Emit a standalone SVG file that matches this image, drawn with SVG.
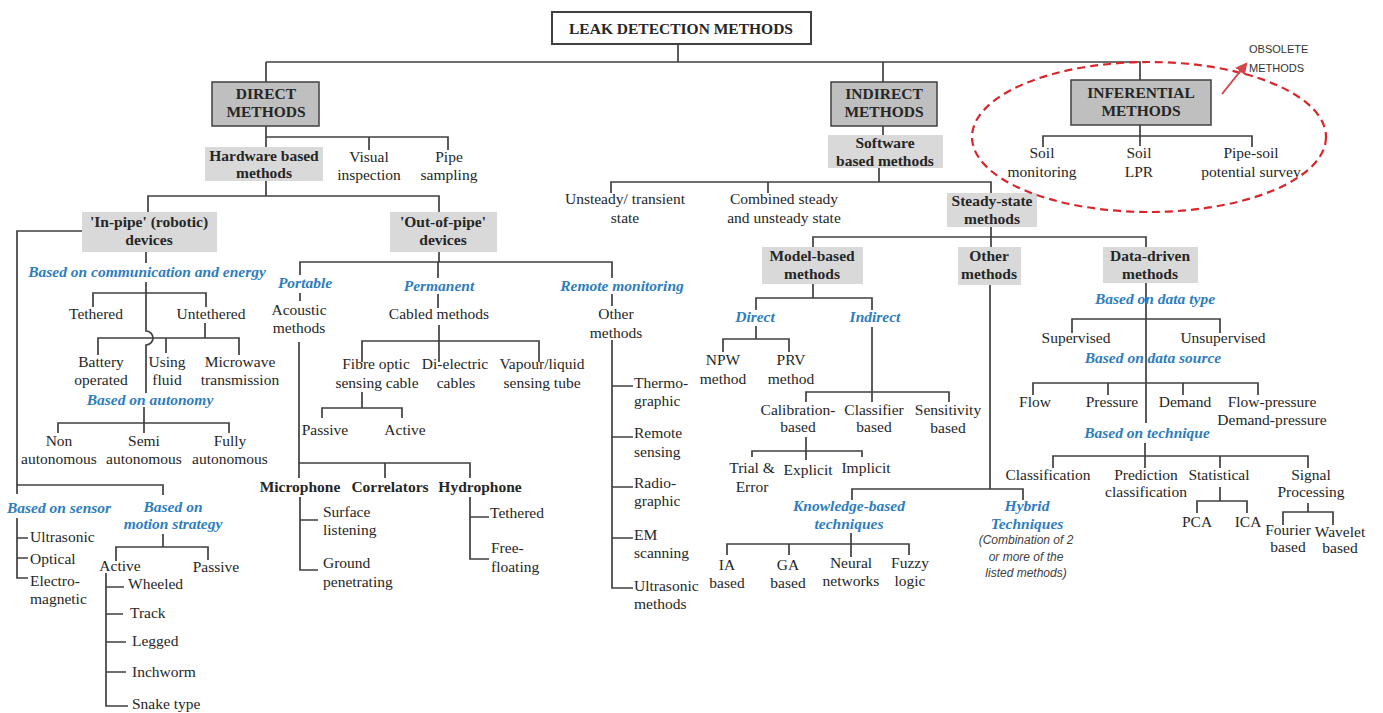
<svg xmlns="http://www.w3.org/2000/svg" width="1383" height="713" viewBox="0 0 1383 713">
<defs>
<style>
text{font-family:"Liberation Serif","Times New Roman",serif;font-size:15.5px;fill:#262626;text-anchor:middle}
.l{text-anchor:start}
.b{font-weight:bold}
.c{font-weight:bold;font-style:italic;fill:#2e7dbd}
.n{font-family:"Liberation Sans",Arial,sans-serif;font-style:italic;font-size:12px;fill:#404040}
.o{font-family:"Liberation Sans",Arial,sans-serif;font-size:11px;fill:#333;text-anchor:start}
.k{fill:#bfbfbf;stroke:#404040;stroke-width:1.5}
.g{fill:#d9d9d9}
.w{fill:#fff;stroke:#404040;stroke-width:2}
#connectors path{fill:none;stroke:#404040;stroke-width:1.7}
</style>
<marker id="ah" viewBox="0 0 10 10" refX="8" refY="5" markerWidth="12" markerHeight="12" markerUnits="userSpaceOnUse" orient="auto">
<path d="M0,0 L10,5 L0,10 z" fill="#d0484a"/>
</marker>
</defs>
<rect width="1383" height="713" fill="#fff"/>

<g id="connectors">
<path d="M678,44 V62 M266,62 H1140 V80 M266,62 V82 M883,62 V82"/>
<path d="M266,126 V147 M266,137 H448 V150 M369,137 V150"/>
<path d="M266,181 V196 M148,212 V196 H439 V212"/>
<path d="M82,231 H17 V494 M17,485 H163 V495 M17,518 V578 H28 M17,538 H28 M17,558 H28"/>
<path d="M163,534 V547 M116,561 V547 H208 V560"/>
<path d="M106,573 V706 H128 M106,587 H124 M106,614 H123 M106,642 H126 M106,672 H126"/>
<path d="M146,252 V263 M146,282 V331 A7,7 0 0 1 146,345 V393"/>
<path d="M93,307 V293 H206 V307 M205,323 V338 M98,355 V338 H239 V355 M166,338 V353"/>
<path d="M144,407 V423 M58,433 V423 H229 V433 M144,423 V433"/>
<path d="M439,252 V262 M300,275 V262 H612 V278 M438,262 V278"/>
<path d="M300,293 V301 M438,294 V308 M612,294 V306"/>
<path d="M439,325 V362 M362,362 V341 H539 V362"/>
<path d="M362,392 V408 M322,418 V408 H402 V418"/>
<path d="M299,342 V478 M299,463 H470 V478 M385,463 V478"/>
<path d="M300,497 V570 H318 M300,520 H318"/>
<path d="M470,497 V559 H489 M470,517 H489"/>
<path d="M612,340 V588 H633 M612,386 H633 M612,437 H633 M612,487 H633 M612,538 H633"/>
<path d="M883,126 V135 M879,168 V182 M611,193 V182 H991 V193 M768,182 V193"/>
<path d="M991,227 V237 M813,247 V237 H1146 V247 M991,237 V247"/>
<path d="M813,284 V298 M756,310 V298 H872 V310"/>
<path d="M756,326 V339 M723,352 V339 H789 V352"/>
<path d="M872,327 V402 M806,402 V392 H949 V402"/>
<path d="M806,437 V460 M752,457 V451 H862 V457"/>
<path d="M990,285 V489 M852,500 V489 H1023 V500"/>
<path d="M851,533 V557 M727,555 V544 H909 V555 M789,544 V555"/>
<path d="M1146,283 V423 M1072,333 V319 H1220 V333 M1033,395 V383 H1258 V395 M1108,383 V395 M1183,383 V395"/>
<path d="M1145,443 V468 M1053,468 V456 H1308 V468 M1220,456 V468"/>
<path d="M1220,487 V501 M1197,513 V501 H1247 V513"/>
<path d="M1308,503 V512 M1283,525 V512 H1333 V525"/>
<path d="M1140,125 V146 M1043,147 V136 H1252 V147"/>
</g>

<g id="root"><rect class="w" x="552" y="12" width="259" height="32"/><text class="b" x="681" y="34">LEAK DETECTION METHODS</text></g>

<g id="direct"><rect class="k" x="212" y="82" width="107" height="44"/><text class="b" x="266" y="99">DIRECT</text><text class="b" x="266" y="117">METHODS</text></g>
<g id="indirect"><rect class="k" x="831" y="82" width="106" height="44"/><text class="b" x="884" y="99">INDIRECT</text><text class="b" x="884" y="117">METHODS</text></g>
<g id="inferential"><rect class="k" x="1071" y="80" width="140" height="45"/><text class="b" x="1141" y="98">INFERENTIAL</text><text class="b" x="1141" y="116">METHODS</text></g>

<g id="hardware"><rect class="g" x="205" y="147" width="118" height="34"/><text class="b" x="264" y="161">Hardware based</text><text class="b" x="264" y="178">methods</text></g>
<g id="visual"><text x="369" y="162">Visual</text><text x="369" y="180">inspection</text></g>
<g id="pipe-sampling"><text x="449" y="162">Pipe</text><text x="449" y="180">sampling</text></g>

<g id="in-pipe"><rect class="g" x="82" y="212" width="135" height="40"/><text class="b" x="149" y="227">'In-pipe' (robotic)</text><text class="b" x="149" y="245">devices</text></g>
<g id="out-of-pipe"><rect class="g" x="390" y="212" width="107" height="40"/><text class="b" x="443" y="227">'Out-of-pipe'</text><text class="b" x="443" y="245">devices</text></g>

<g id="comm-energy"><text class="c" x="147" y="277">Based on communication and energy</text></g>
<g id="tethered"><text x="96" y="319">Tethered</text></g>
<g id="untethered"><text x="211" y="319">Untethered</text></g>
<g id="battery"><text x="101" y="367">Battery</text><text x="101" y="385">operated</text></g>
<g id="using-fluid"><text x="167" y="367">Using</text><text x="167" y="385">fluid</text></g>
<g id="microwave"><text x="240" y="367">Microwave</text><text x="240" y="385">transmission</text></g>
<g id="autonomy"><text class="c" x="150" y="405">Based on autonomy</text></g>
<g id="non-auto"><text x="59" y="446">Non</text><text x="59" y="464">autonomous</text></g>
<g id="semi-auto"><text x="144" y="446">Semi</text><text x="144" y="464">autonomous</text></g>
<g id="fully-auto"><text x="230" y="446">Fully</text><text x="230" y="464">autonomous</text></g>
<g id="sensor"><text class="c" x="59" y="513">Based on sensor</text></g>
<g id="ultrasonic"><text class="l" x="30" y="542">Ultrasonic</text></g>
<g id="optical"><text class="l" x="30" y="564">Optical</text></g>
<g id="electro"><text class="l" x="30" y="586">Electro-</text><text class="l" x="30" y="604">magnetic</text></g>
<g id="motion"><text class="c" x="173" y="512">Based on</text><text class="c" x="173" y="529">motion strategy</text></g>
<g id="active-m"><text x="120" y="571">Active</text></g>
<g id="passive-m"><text x="216" y="572">Passive</text></g>
<g id="wheeled"><text class="l" x="128" y="589">Wheeled</text></g>
<g id="track"><text class="l" x="130" y="618">Track</text></g>
<g id="legged"><text class="l" x="132" y="646">Legged</text></g>
<g id="inchworm"><text class="l" x="132" y="677">Inchworm</text></g>
<g id="snake"><text class="l" x="132" y="709">Snake type</text></g>

<g id="portable"><text class="c" x="305" y="288">Portable</text></g>
<g id="permanent"><text class="c" x="439" y="291">Permanent</text></g>
<g id="remote-mon"><text class="c" x="622" y="291">Remote monitoring</text></g>
<g id="acoustic"><text x="299" y="315">Acoustic</text><text x="299" y="333">methods</text></g>
<g id="cabled"><text x="439" y="319">Cabled methods</text></g>
<g id="other-m"><text x="616" y="319">Other</text><text x="616" y="338">methods</text></g>
<g id="fibre"><text x="376" y="369">Fibre optic</text><text x="377" y="388">sensing cable</text></g>
<g id="dielectric"><text x="455" y="369">Di-electric</text><text x="456" y="388">cables</text></g>
<g id="vapour"><text x="542" y="369">Vapour/liquid</text><text x="542" y="388">sensing tube</text></g>
<g id="passive-f"><text x="325" y="435">Passive</text></g>
<g id="active-f"><text x="405" y="435">Active</text></g>
<g id="microphone"><text class="b" x="300" y="492">Microphone</text></g>
<g id="correlators"><text class="b" x="390" y="492">Correlators</text></g>
<g id="hydrophone"><text class="b" x="480" y="492">Hydrophone</text></g>
<g id="surface"><text class="l" x="323" y="517">Surface</text><text class="l" x="323" y="535">listening</text></g>
<g id="ground"><text class="l" x="323" y="568">Ground</text><text class="l" x="323" y="587">penetrating</text></g>
<g id="tethered-h"><text class="l" x="490" y="518">Tethered</text></g>
<g id="free"><text class="l" x="491" y="553">Free-</text><text class="l" x="491" y="572">floating</text></g>
<g id="thermo"><text class="l" x="634" y="388">Thermo-</text><text class="l" x="634" y="406">graphic</text></g>
<g id="remote-s"><text class="l" x="634" y="438">Remote</text><text class="l" x="634" y="457">sensing</text></g>
<g id="radio"><text class="l" x="634" y="488">Radio-</text><text class="l" x="634" y="506">graphic</text></g>
<g id="em"><text class="l" x="634" y="540">EM</text><text class="l" x="634" y="558">scanning</text></g>
<g id="ultra-m"><text class="l" x="634" y="591">Ultrasonic</text><text class="l" x="634" y="609">methods</text></g>

<g id="software"><rect class="g" x="828" y="135" width="115" height="33"/><text class="b" x="885" y="148">Software</text><text class="b" x="885" y="166">based methods</text></g>
<g id="unsteady"><text x="625" y="204">Unsteady/ transient</text><text x="625" y="223">state</text></g>
<g id="combined"><text x="784" y="204">Combined steady</text><text x="784" y="223">and unsteady state</text></g>
<g id="steady"><rect class="g" x="947" y="193" width="90" height="34"/><text class="b" x="992" y="206">Steady-state</text><text class="b" x="992" y="224">methods</text></g>
<g id="model"><rect class="g" x="762" y="247" width="101" height="37"/><text class="b" x="812" y="261">Model-based</text><text class="b" x="812" y="279">methods</text></g>
<g id="other"><rect class="g" x="958" y="247" width="63" height="38"/><text class="b" x="989" y="261">Other</text><text class="b" x="989" y="279">methods</text></g>
<g id="data"><rect class="g" x="1103" y="247" width="95" height="36"/><text class="b" x="1150" y="261">Data-driven</text><text class="b" x="1150" y="279">methods</text></g>

<g id="direct-m"><text class="c" x="755" y="322">Direct</text></g>
<g id="indirect-m"><text class="c" x="875" y="322">Indirect</text></g>
<g id="npw"><text x="723" y="365">NPW</text><text x="723" y="384">method</text></g>
<g id="prv"><text x="791" y="365">PRV</text><text x="791" y="384">method</text></g>
<g id="calibration"><text x="798" y="415">Calibration-</text><text x="798" y="432">based</text></g>
<g id="classifier"><text x="874" y="415">Classifier</text><text x="874" y="432">based</text></g>
<g id="sensitivity"><text x="948" y="415">Sensitivity</text><text x="948" y="433">based</text></g>
<g id="trial"><text x="752" y="473">Trial &amp;</text><text x="752" y="492">Error</text></g>
<g id="explicit"><text x="808" y="475">Explicit</text></g>
<g id="implicit"><text x="866" y="473">Implicit</text></g>
<g id="knowledge"><text class="c" x="849" y="511">Knowledge-based</text><text class="c" x="849" y="529">techniques</text></g>
<g id="hybrid"><text class="c" x="1027" y="511">Hybrid</text><text class="c" x="1027" y="529">Techniques</text><text class="n" x="1026" y="544">(Combination of 2</text><text class="n" x="1026" y="561">or more of the</text><text class="n" x="1026" y="577">listed methods)</text></g>
<g id="ia"><text x="727" y="570">IA</text><text x="727" y="588">based</text></g>
<g id="ga"><text x="788" y="570">GA</text><text x="788" y="588">based</text></g>
<g id="neural"><text x="851" y="568">Neural</text><text x="851" y="586">networks</text></g>
<g id="fuzzy"><text x="910" y="568">Fuzzy</text><text x="910" y="586">logic</text></g>

<g id="data-type"><text class="c" x="1155" y="304">Based on data type</text></g>
<g id="supervised"><text x="1076" y="343">Supervised</text></g>
<g id="unsupervised"><text x="1223" y="343">Unsupervised</text></g>
<g id="data-source"><text class="c" x="1153" y="363">Based on data source</text></g>
<g id="flow"><text x="1035" y="407">Flow</text></g>
<g id="pressure"><text x="1112" y="407">Pressure</text></g>
<g id="demand"><text x="1185" y="407">Demand</text></g>
<g id="flow-pressure"><text x="1272" y="407">Flow-pressure</text><text x="1272" y="425">Demand-pressure</text></g>
<g id="technique"><text class="c" x="1147" y="438">Based on technique</text></g>
<g id="classification"><text x="1048" y="480">Classification</text></g>
<g id="prediction"><text x="1146" y="480">Prediction</text><text x="1146" y="497">classification</text></g>
<g id="statistical"><text x="1219" y="480">Statistical</text></g>
<g id="signal"><text x="1311" y="480">Signal</text><text x="1311" y="497">Processing</text></g>
<g id="pca"><text x="1197" y="527">PCA</text></g>
<g id="ica"><text x="1248" y="527">ICA</text></g>
<g id="fourier"><text x="1288" y="535">Fourier</text><text x="1288" y="552">based</text></g>
<g id="wavelet"><text x="1340" y="537">Wavelet</text><text x="1340" y="553">based</text></g>

<g id="soil-mon"><text x="1042" y="158">Soil</text><text x="1042" y="177">monitoring</text></g>
<g id="soil-lpr"><text x="1139" y="158">Soil</text><text x="1139" y="177">LPR</text></g>
<g id="pipe-soil"><text x="1251" y="158">Pipe-soil</text><text x="1251" y="177">potential survey</text></g>

<g id="obsolete">
<ellipse cx="1149" cy="137" rx="177" ry="75" fill="none" stroke="#d9262c" stroke-width="2.2" stroke-dasharray="8 5"/>
<line x1="1222" y1="94" x2="1246" y2="64" stroke="#d0484a" stroke-width="2" marker-end="url(#ah)"/>
<text class="o" x="1249" y="53">OBSOLETE</text>
<text class="o" x="1249" y="72">METHODS</text>
</g>
</svg>
